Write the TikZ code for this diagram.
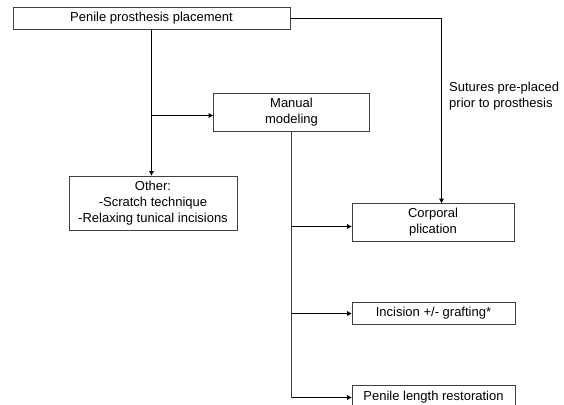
\documentclass[tikz,border=0pt]{standalone}
\usepackage{fontspec}
\setmainfont{Liberation Sans}
\usetikzlibrary{arrows.meta}
\begin{document}
\begin{tikzpicture}[x=1pt,y=-1pt,
  boxnode/.style={draw=black!75,line width=0.8pt,inner sep=0pt,align=center,font=\fontsize{13}{16}\selectfont},
  conn/.style={line width=1.4pt,-{Triangle[length=4.5pt,width=4.5pt]}},
  thinconn/.style={line width=0.8pt,draw=black!75}]
\useasboundingbox (0,0) rectangle (564,404);
\node[boxnode,minimum width=277pt,minimum height=22pt] (top) at (151.5,18) {Penile prosthesis placement};
\node[boxnode,minimum width=156pt,minimum height=38pt] (manual) at (291.5,112) {Manual\\modeling};
\node[boxnode,minimum width=168pt,minimum height=54pt] (other) at (153,203) {Other:\\-Scratch technique\\-Relaxing tunical incisions};
\node[boxnode,minimum width=162pt,minimum height=38pt] (corp) at (433,222.5) {Corporal\\plication};
\node[boxnode,minimum width=163pt,minimum height=22pt] (inc) at (433.5,313) {Incision +/- grafting*};
\node[boxnode,minimum width=163pt,minimum height=24pt,anchor=north] (plr) at (433.5,385) {Penile length restoration};
\node[align=left,anchor=west,font=\fontsize{13}{15.5}\selectfont,inner sep=0pt] (sut) at (449,96) {Sutures pre-placed\\prior to prosthesis};
% connectors
\draw[conn] (top.south -| 151.5,0) -- (other.north -| 151.5,0);
\coordinate (b1) at (151.5,115.5);
\draw[conn] (b1) -- (b1 -| manual.west);
\coordinate (te) at (top.east |- 0,18.5);
\draw[conn] (te) -| (441.5,0 |- corp.north);
\coordinate (mb) at (291.5,131);
\coordinate (mend) at (291.5,397.5);
\draw[thinconn] (mb) -- (mend);
\coordinate (b2) at (291.5,226.5);
\coordinate (b3) at (291.5,313.5);
\draw[conn] (b2) -- (b2 -| corp.west);
\draw[conn] (b3) -- (b3 -| inc.west);
\draw[conn] (mend) -- (mend -| plr.west);
\end{tikzpicture}
\end{document}
